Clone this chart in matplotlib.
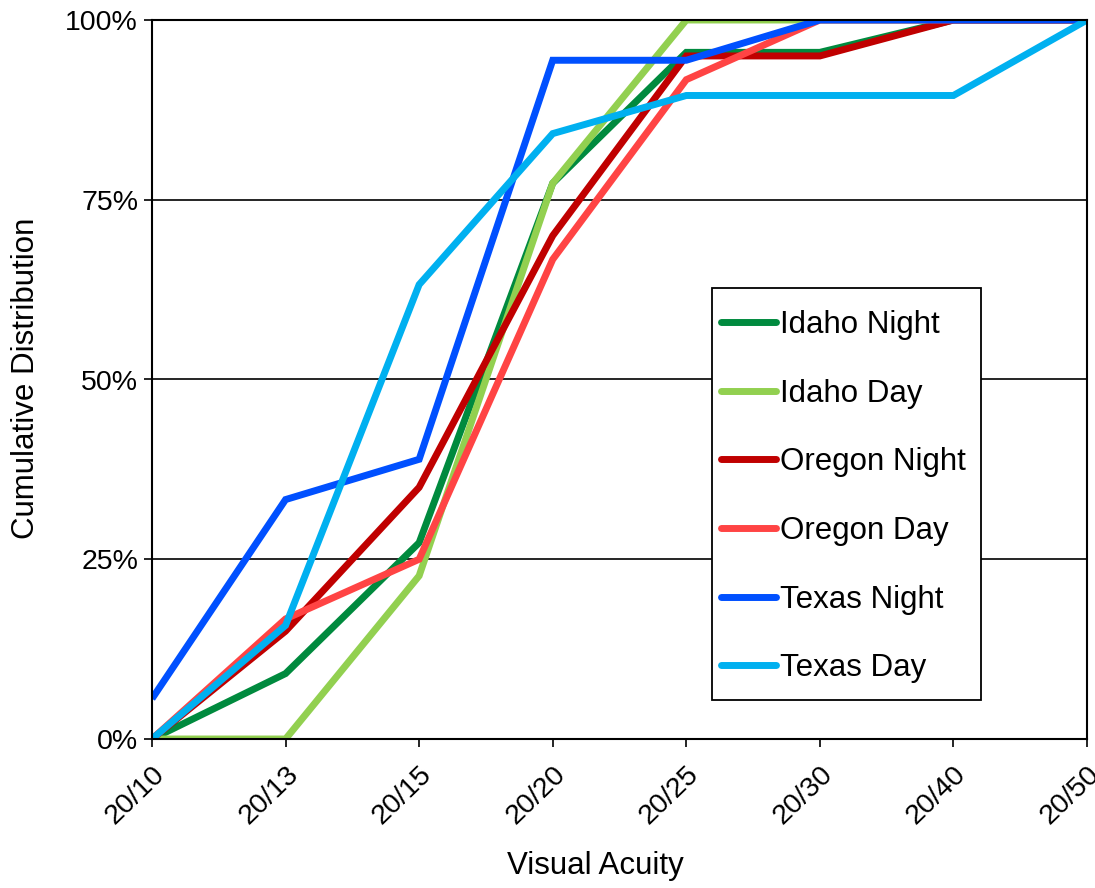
import matplotlib
matplotlib.use("Agg")
import matplotlib.pyplot as plt
from matplotlib.ticker import PercentFormatter
from matplotlib.patches import Rectangle

categories = ["20/10", "20/13", "20/15", "20/20", "20/25", "20/30", "20/40", "20/50"]

idaho_night = [0.0, 9.1, 27.3, 77.3, 95.5, 95.5, 100.0, 100.0]
idaho_day = [0.0, 0.0, 22.7, 77.3, 100.0, 100.0, 100.0, 100.0]
oregon_night = [0.0, 15.0, 35.0, 70.0, 95.0, 95.0, 100.0, 100.0]
oregon_day = [0.0, 16.7, 25.0, 66.7, 91.7, 100.0, 100.0, 100.0]
texas_night = [5.6, 33.3, 38.9, 94.4, 94.4, 100.0, 100.0, 100.0]
texas_day = [0.0, 15.8, 63.2, 84.2, 89.5, 89.5, 89.5, 100.0]

series_names = ["Idaho Night", "Idaho Day", "Oregon Night", "Oregon Day", "Texas Night", "Texas Day"]
series_values = [idaho_night, idaho_day, oregon_night, oregon_day, texas_night, texas_day]
colors = ["#008A3E", "#92D050", "#C00000", "#FF4444", "#0050FF", "#00B0F0"]

plt.rcParams['font.family'] = ['Liberation Sans', 'DejaVu Sans']

W, H = 1095, 888
fig = plt.figure(figsize=(W / 100, H / 100), dpi=100)
x0, x1, y0, y1 = 152, 1087, 739, 20
ax = fig.add_axes([x0 / W, 1 - y0 / H, (x1 - x0) / W, (y0 - y1) / H])

x = list(range(len(categories)))
for name, vals, c in zip(series_names, series_values, colors):
    ax.plot(x, vals, color=c, lw=5, label=name, solid_joinstyle='miter', solid_capstyle='butt')

ax.set_xlim(0, len(categories) - 1)
ax.set_ylim(0, 100)
ax.set_yticks([0, 25, 50, 75, 100])
ax.yaxis.set_major_formatter(PercentFormatter(decimals=0))
ax.set_xticks(x)
ax.set_xticklabels(categories, rotation=44, ha='right', va='top', rotation_mode='anchor')
ax.tick_params(axis='both', labelsize=20.5, direction='out', length=6, width=1.2, colors='black')
ax.tick_params(axis='x', pad=10)
ax.tick_params(axis='y', pad=4)

ax.yaxis.grid(True, color='black', lw=1.2)
ax.set_axisbelow(True)
for s in ax.spines.values():
    s.set_color('black')
    s.set_linewidth(1.5)

ax.set_xlabel("Visual Acuity", fontsize=22.5)
ax.xaxis.set_label_coords((595 - x0) / (x1 - x0), (y0 - 866) / (y0 - y1), transform=ax.transAxes)
ax.xaxis.label.set_va('center')
ax.set_ylabel("Cumulative Distribution", fontsize=22.5)
ax.yaxis.set_label_coords((26 - x0) / (x1 - x0), (y0 - 378) / (y0 - y1), transform=ax.transAxes)
ax.yaxis.label.set_va('center')

# legend box (frame drawn separately)
lx0, lx1, ly0, ly1 = 712, 981, 288, 700
frame = Rectangle(((lx0 - x0) / (x1 - x0), (y0 - ly1) / (y0 - y1)),
                  (lx1 - lx0) / (x1 - x0), (ly1 - ly0) / (y0 - y1),
                  transform=ax.transAxes, facecolor='white', edgecolor='black',
                  lw=1.3, zorder=4, clip_on=False)
ax.add_patch(frame)
leg = ax.legend(loc='upper left', bbox_to_anchor=((lx0 + 3 - x0) / (x1 - x0), (y0 - ly0 - 16) / (y0 - y1)),
                fontsize=22.5, frameon=False,
                handlelength=1.75, handletextpad=0.12, labelspacing=1.235, borderpad=0.2,
                borderaxespad=0)
leg.set_zorder(5)
for h in leg.get_lines():
    h.set_solid_capstyle('round')

fig.savefig("out.png", dpi=100)
